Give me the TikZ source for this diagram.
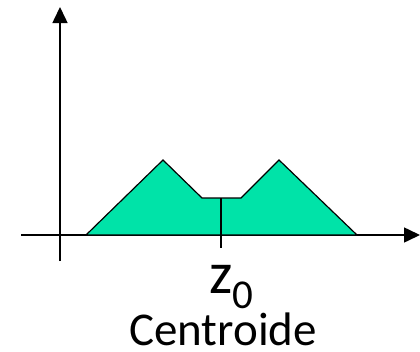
\documentclass[tikz,border=0pt]{standalone}
\usepackage{fontspec}
\setmainfont{Carlito}
\usetikzlibrary{arrows.meta, positioning}
\definecolor{fuzzyGreen}{RGB}{0,227,168}

\begin{document}
\begin{tikzpicture}[
    x=1pt, y=-1pt,
    axis/.style={line width=1.5pt, -{Triangle[length=16pt, width=15pt]}},
    curve/.style={draw, line width=1.2pt, fill=fuzzyGreen, line join=miter},
    label/.style={inner sep=0pt, text depth=0pt, font=\fontsize{47}{47}\selectfont}
]
\useasboundingbox (0,0) rectangle (420,351);
% axes
\coordinate (yBottom) at (60,261);
\coordinate (yTop) at (60,7);
\coordinate (xLeft) at (21,235);
\coordinate (xRight) at (420,235);
\draw[axis] (yBottom) -- (yTop);
\draw[axis] (xLeft) -- (xRight);
% aggregated output set
\coordinate (p1) at (86,235);
\coordinate (p2) at (163,160);
\coordinate (p3) at (202,198);
\coordinate (p4) at (241,198);
\coordinate (p5) at (279,160);
\coordinate (p6) at (357,235);
\draw[curve] (p1) -- (p2) -- (p3) -- (p4) -- (p5) -- (p6) -- cycle;
% centroid
\coordinate (cTop) at (221,198);
\coordinate (cBottom) at (221,248);
\draw[line width=1.2pt] (cTop) -- (cBottom);
\node[inner sep=0pt, text height=28pt, text depth=0pt, anchor=base west] (zLabel) at (209,293)
    {{\fontsize{59}{59}\selectfont z}\raisebox{-15pt}{\fontsize{41}{41}\selectfont 0}};
\node[label, anchor=base] (centroid) at (223,345) {Centroide};
\end{tikzpicture}
\end{document}
